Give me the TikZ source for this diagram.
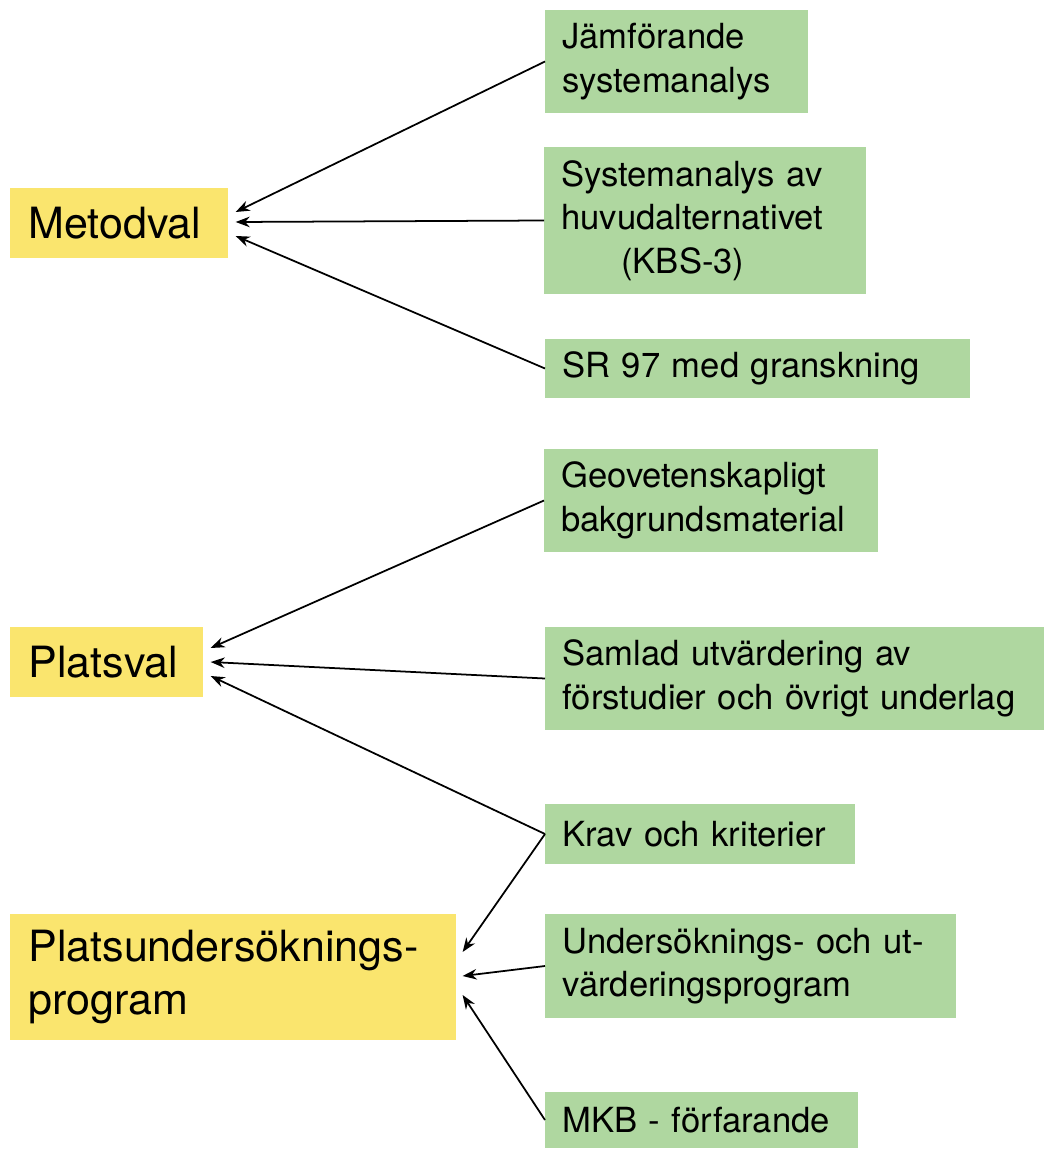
\documentclass[tikz,border=0pt]{standalone}
\usepackage{fontspec}
\setmainfont{TeX Gyre Heros}
\usetikzlibrary{calc,arrows.meta}
\definecolor{boxyellow}{RGB}{250,229,110}
\definecolor{boxgreen}{RGB}{175,215,160}

\begin{document}
\begin{tikzpicture}[x=0.02cm,y=-0.02cm,
  ybox/.style={fill=boxyellow, anchor=west, align=left, inner xsep=0.36cm, inner ysep=0pt, font=\fontsize{24.5}{30.7}\selectfont},
  gbox/.style={fill=boxgreen, anchor=west, align=left, inner xsep=0.34cm, inner ysep=0pt, font=\fontsize{19.7}{24.7}\selectfont},
  arr/.style={-{Stealth[length=8pt,width=6pt]}, line width=1pt}]
\useasboundingbox (0,0) rectangle (1045,1149);
% targets
\node[ybox, text width=3.64cm, minimum height=1.4cm] (metod) at (10,223) {Metodval};
\node[ybox, text width=3.14cm, minimum height=1.4cm] (plats) at (10,662) {Platsval};
\node[ybox, text width=8.2cm, minimum height=2.52cm] (psu) at (10,977) {Platsundersöknings-\\program};
% sources
\node[gbox, text width=4.58cm, minimum height=2.06cm] (jamf) at (545,61.5) {Jämförande\\systemanalys};
\node[gbox, text width=5.76cm, minimum height=2.94cm] (sysan) at (544,220.5) {Systemanalys av\\huvudalternativet\\\hspace*{1.2cm}(KBS-3)};
\node[gbox, text width=7.82cm, minimum height=1.18cm] (sr) at (545,368.5) {SR 97 med granskning};
\node[gbox, text width=6.0cm, minimum height=2.06cm] (geo) at (544,500.5) {Geovetenskapligt\\bakgrundsmaterial};
\node[gbox, text width=9.3cm, minimum height=2.06cm] (samlad) at (545,678.5) {Samlad utvärdering av\\förstudier och övrigt underlag};
\node[gbox, text width=5.52cm, minimum height=1.2cm] (krav) at (545,834) {Krav och kriterier};
\node[gbox, text width=7.54cm, minimum height=2.08cm] (unders) at (545,966) {Undersöknings- och ut-\\värderingsprogram};
\node[gbox, text width=5.58cm, minimum height=1.12cm] (mkb) at (545,1120) {MKB - förfarande};
% arrows
\draw[arr] (jamf.west)--($(metod.east)+(7,-11)$);
\draw[arr] (sysan.west)--($(metod.east)+(7,-1)$);
\draw[arr] (sr.west)--($(metod.east)+(7,13)$);
\draw[arr] (geo.west)--($(plats.east)+(7,-14)$);
\draw[arr] (samlad.west)--($(plats.east)+(7,0)$);
\draw[arr] (krav.west)--($(plats.east)+(7,14)$);
\draw[arr] (krav.west)--($(psu.east)+(6,-25)$);
\draw[arr] (unders.west)--($(psu.east)+(6,-1)$);
\draw[arr] (mkb.west)--($(psu.east)+(6,18)$);
\end{tikzpicture}
\end{document}
